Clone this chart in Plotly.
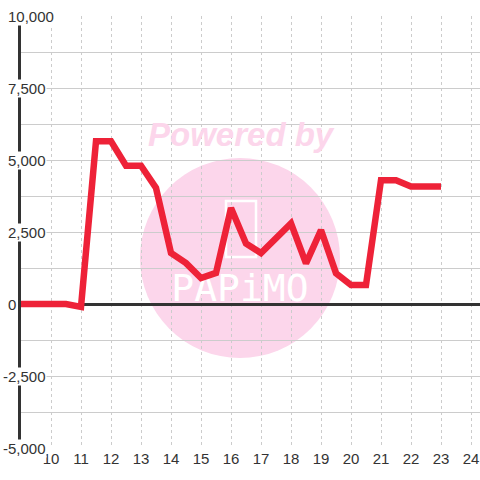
import plotly.graph_objects as go

# ---- data ----
x_vals = [9, 9.5, 10, 10.5, 11, 11.5, 12, 12.5, 13, 13.5, 14, 14.5, 15, 15.5, 16,
          16.5, 17, 17.5, 18, 18.5, 19, 19.5, 20, 20.5, 21, 21.5, 22, 22.5, 23]
y_vals = [0, 0, 0, 0, -100, 5650, 5650, 4800, 4800, 4030, 1770, 1420, 900, 1080, 3330,
          2100, 1770, 2250, 2800, 1410, 2570, 1070, 660, 660, 4300, 4300, 4080, 4080, 4080]
x_ticks = list(range(10, 25))
y_label_vals = [-5000, -2500, 0, 2500, 5000, 7500, 10000]
y_label_text = ["-5,000", "-2,500", "0", "2,500", "5,000", "7,500", "10,000"]

# ---- layout geometry (pixels) ----
W, H = 480, 480
ML, MR, MT, MB = 21, 0, 16, 32
PW, PH = W - ML - MR, H - MT - MB


def px_to_paper_x(px):
    return (px - ML) / PW


def py_to_paper_y(py):
    return (H - MB - py) / PH


PINK = "#fcd6eb"
RED = "#ee2238"
DARK = "#333333"
GRID = "#cccccc"
FONT = "Liberation Sans"

fig = go.Figure()

# watermark logo text (drawn before the data line so the line sits on top)
fig.add_trace(go.Scatter(
    x=[9 + (240 - ML) / 30.0], y=[(304 - 291) / 0.0288],
    mode="text", text=["PAPiMO"],
    textfont=dict(family="DejaVu Sans Mono", size=38, color="white"),
    hoverinfo="skip", showlegend=False,
))

fig.add_trace(go.Scatter(
    x=x_vals, y=y_vals, mode="lines",
    line=dict(color=RED, width=6.5),
    showlegend=False,
))

shapes = [
    dict(type="circle", xref="paper", yref="paper", layer="below",
         x0=px_to_paper_x(140), x1=px_to_paper_x(340),
         y0=py_to_paper_y(358), y1=py_to_paper_y(158),
         fillcolor=PINK, line=dict(width=0)),
    dict(type="rect", xref="paper", yref="paper", layer="below",
         x0=px_to_paper_x(226), x1=px_to_paper_x(256),
         y0=py_to_paper_y(257), y1=py_to_paper_y(201),
         fillcolor="rgba(0,0,0,0)", line=dict(color="white", width=2.5)),
]

annotations = [
    dict(text="<b><i>Powered by</i></b>", xref="paper", yref="paper",
         x=px_to_paper_x(241), y=py_to_paper_y(134), showarrow=False,
         xanchor="center", yanchor="middle",
         font=dict(family=FONT, size=33, color=PINK)),
]

for v, t in zip(y_label_vals, y_label_text):
    left_px = 7 - (5 if t.startswith("-") else 0)
    annotations.append(dict(
        text=t, xref="paper", yref="y", x=px_to_paper_x(left_px), y=v,
        xanchor="left", yanchor="middle", showarrow=False,
        bgcolor="white", borderpad=0,
        font=dict(family=FONT, size=15, color=DARK),
    ))

fig.update_layout(
    width=W, height=H,
    margin=dict(l=ML, r=MR, t=MT, b=MB, pad=0),
    paper_bgcolor="white", plot_bgcolor="white",
    showlegend=False,
    shapes=shapes, annotations=annotations,
    font=dict(family=FONT, size=15, color=DARK),
)

fig.update_xaxes(
    range=[9, 9 + PW / 30.0],
    tickvals=x_ticks, ticktext=[str(t) for t in x_ticks],
    showgrid=True, gridcolor=GRID, gridwidth=1, griddash="dot",
    zeroline=False, showline=False, ticks="",
    tickfont=dict(family=FONT, size=15, color=DARK),
)

fig.update_yaxes(
    range=[-5000, 10000], tick0=0, dtick=1250,
    showticklabels=False, ticks="",
    showgrid=True, gridcolor=GRID, gridwidth=1,
    zeroline=True, zerolinecolor=DARK, zerolinewidth=3,
    showline=True, linecolor=DARK, linewidth=3,
    layer="below traces",
)

fig.write_html(
    "out.html",
    config={"displayModeBar": False},
    post_script="document.body.style.margin='0px';document.body.style.overflow='hidden';",
)
